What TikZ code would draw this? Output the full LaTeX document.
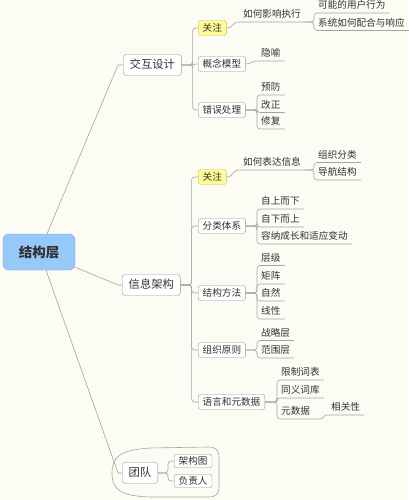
\documentclass[tikz,border=0pt]{standalone}
\usepackage{fontspec}
\usepackage{xcolor}
\usepackage{tikz}
\newfontfamily\cjk{Noto Sans CJK SC}
\definecolor{bgcream}{RGB}{252,252,244}
\definecolor{linegray}{RGB}{165,165,160}
\definecolor{boxgray}{RGB}{150,150,150}
\definecolor{textgray}{RGB}{50,50,50}
\definecolor{rootblue}{RGB}{150,200,250}
\definecolor{rootedge}{RGB}{110,160,215}
\definecolor{noteyellow}{RGB}{255,251,150}
\definecolor{noteedge}{RGB}{195,190,110}

\begin{document}
\begin{tikzpicture}[x=1pt,y=-1pt,
  conn/.style={draw=linegray,line width=0.6pt},
  roottopic/.style={draw=rootedge,fill=rootblue,rounded corners=6pt,minimum width=72pt,minimum height=36pt,text=textgray,font=\cjk\fontsize{13.5}{15}\bfseries},
  maintopic/.style={draw=boxgray,fill=white,rounded corners=3pt,anchor=west,inner xsep=6.5pt,inner ysep=0pt,minimum height=21pt,text height=9pt,text depth=1.2pt,text=textgray,font=\cjk\fontsize{11.3}{13}\selectfont},
  subtopic/.style={draw=boxgray,fill=white,rounded corners=2.5pt,anchor=west,inner xsep=4.5pt,inner ysep=0pt,minimum height=15pt,text height=7.5pt,text depth=1pt,text=textgray,font=\cjk\fontsize{9.6}{11}\selectfont},
  smalltopic/.style={subtopic,minimum height=13.5pt},
  notetopic/.style={subtopic,fill=noteyellow,draw=noteedge},
  leaf/.style={anchor=south west,inner xsep=4pt,inner ysep=3pt,text height=7.5pt,text depth=1pt,text=textgray,font=\cjk\fontsize{9.6}{11}\selectfont}]
% Background and page size
\fill[bgcream] (0,0) rectangle (408,500);
\useasboundingbox (0,0) rectangle (408,500);
% Boundary round the team group
\draw[conn] (112,473) .. controls (112,456) and (121,450) .. (150,448) -- (208,447)
  .. controls (216,447) and (219,450) .. (219,458) -- (219,487)
  .. controls (219,494) and (216,497) .. (208,497) -- (150,497)
  .. controls (121,496) and (112,490) .. (112,473);
% Central topic
\node[roottopic] (root) at (39,252) {结构层};
% Main topics
\node[maintopic] (jh) at (123,65) {交互设计};
\node[maintopic] (xx) at (122,285) {信息架构};
\node[maintopic] (td) at (122,473) {团队};
% Subtopics of interaction design
\node[notetopic] (gz1) at (198,28) {关注};
\node[subtopic] (gn) at (198,64) {概念模型};
\node[subtopic] (cw) at (198,110) {错误处理};
% Subtopics of information architecture
\node[notetopic] (gz2) at (198,177) {关注};
\node[subtopic] (fl) at (198,226) {分类体系};
\node[subtopic] (jg) at (198,293) {结构方法};
\node[subtopic] (zz) at (198,350) {组织原则};
\node[subtopic] (yy) at (198,402) {语言和元数据};
% Subtopics of the team
\node[smalltopic] (jgt) at (174,461) {架构图};
\node[smalltopic] (fzr) at (174,481) {负责人};
% Leaves, placed on their underline
\node[leaf] (hx1) at (239,22) {如何影响执行};
\node[leaf] (kn) at (314,13) {可能的用户行为};
\node[leaf] (xt) at (314,30.5) {系统如何配合与响应};
\node[leaf] (yu) at (257,61) {隐喻};
\node[leaf] (yf) at (257,95) {预防};
\node[leaf] (gzh) at (257,112.5) {改正};
\node[leaf] (xf) at (257,129) {修复};
\node[leaf] (hx2) at (239,170) {如何表达信息};
\node[leaf] (zf) at (314,162.5) {组织分类};
\node[leaf] (dh) at (314,180) {导航结构};
\node[leaf] (zs) at (257,209) {自上而下};
\node[leaf] (zx) at (257,227) {自下而上};
\node[leaf] (rn) at (257,244) {容纳成长和适应变动};
\node[leaf] (cj) at (257,265.5) {层级};
\node[leaf] (jz) at (257,284) {矩阵};
\node[leaf] (zr) at (257,301) {自然};
\node[leaf] (xs) at (257,319) {线性};
\node[leaf] (zl) at (257,340.5) {战略层};
\node[leaf] (fw) at (257,358) {范围层};
\node[leaf] (xz) at (277,380) {限制词表};
\node[leaf] (ty) at (277,398) {同义词库};
\node[leaf] (ys) at (277,419) {元数据};
\node[leaf] (xg) at (327,415) {相关性};
% Central topic to main topics
\draw[conn] ([xshift=8pt]root.north) -- ([xshift=-5pt]jh.west) -- (jh.west);
\draw[conn] ([yshift=3pt]root.south east) -- ([xshift=-4pt]xx.west) -- (xx.west);
\draw[conn] ([xshift=7pt]root.south) -- ([xshift=-4pt]td.west) -- (td.west);
% Brackets to boxed subtopics
\foreach \c in {gz1,gn,cw}
  \draw[conn,rounded corners=3pt] (jh.east) -- ++(11,0) |- (\c.west);
\foreach \c in {gz2,fl,jg,zz,yy}
  \draw[conn,rounded corners=3pt] (xx.east) -- ++(11,0) |- (\c.west);
\foreach \c in {jgt,fzr}
  \draw[conn,rounded corners=3pt] (td.east) -- ++(10,0) |- (\c.west);
% Single leaves hang on a curve
\draw[conn] (gz1.east) .. controls +(7,0) and +(-7,0) .. (hx1.south west) -- (hx1.south east);
\draw[conn] (gz2.east) .. controls +(7,0) and +(-7,0) .. (hx2.south west) -- (hx2.south east);
\draw[conn] (gn.east) .. controls +(6,0) and +(-6,0) .. (yu.south west) -- (yu.south east);
\draw[conn] (ys.south east) -- ++(6,0) .. controls +(4,0) and +(-4,0) .. (xg.south west) -- (xg.south east);
% Brackets to underlined leaves
\foreach \p/\c in {hx1.south east/kn,hx1.south east/xt,hx2.south east/zf,hx2.south east/dh,
    cw.east/yf,cw.east/gzh,cw.east/xf,fl.east/zs,fl.east/zx,fl.east/rn,
    jg.east/cj,jg.east/jz,jg.east/zr,jg.east/xs,zz.east/zl,zz.east/fw,
    yy.east/xz,yy.east/ty,yy.east/ys}
  \draw[conn,rounded corners=3pt] (\p) -| (\c.south west) -- (\c.south east);
\end{tikzpicture}
\end{document}
